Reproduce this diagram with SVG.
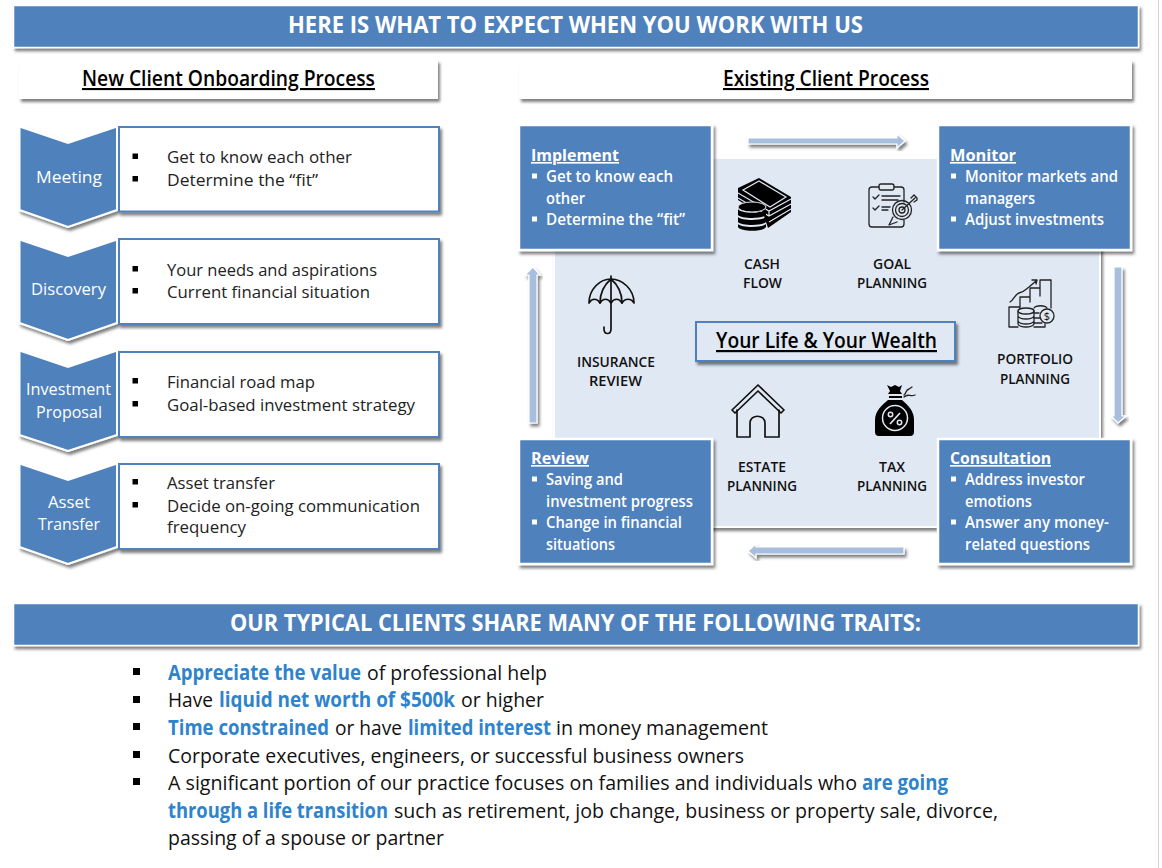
<svg xmlns="http://www.w3.org/2000/svg" width="1162" height="868" viewBox="0 0 1162 868">
<style>
text{font-family:"Open Sans","Noto Sans","Liberation Sans",sans-serif;}
.bar{fill:#4f81bd;stroke:#fff;stroke-width:1.5;filter:url(#sh);}
.sub{fill:#fff;filter:url(#sh);}
.chev{fill:#4f81bd;stroke:#fff;stroke-width:2;filter:url(#sh);}
.box{fill:#fff;stroke:#4f81bd;stroke-width:2;filter:url(#sh);}
.blk{fill:#4f81bd;stroke:#fff;stroke-width:2.5;filter:url(#sh);}
.arr{fill:#a7bede;stroke:#fff;stroke-width:1.2;filter:url(#sh);}
.t1{font-size:23px;font-weight:700;fill:#fff;}
.t2{font-size:21px;font-weight:600;fill:#000;text-decoration:underline;}
.cl{font-size:16px;fill:#fff;}
.li{font-size:16px;fill:#222;}
.h{font-size:16.5px;font-weight:700;fill:#fff;text-decoration:underline;}
.w{font-size:15.5px;font-weight:600;fill:#fff;}
.lab{font-size:13.5px;font-weight:600;fill:#111;}
.tr{font-size:20.5px;fill:#111;}
.hi{font-weight:700;fill:#2e83cc;}
.bk{fill:#000;}
.bw{fill:#fff;}
.ic{fill:none;stroke:#111;stroke-width:1.7;stroke-linejoin:round;stroke-linecap:round;}
.ict{fill:none;stroke:#222;stroke-width:1.3;stroke-linejoin:round;stroke-linecap:round;}
.gap{fill:none;stroke:#e0e8f3;stroke-width:1.2;}
</style>
<defs>
<filter id="sh" x="-10%" y="-15%" width="125%" height="135%"><feDropShadow dx="2" dy="3" stdDeviation="1.6" flood-color="#000" flood-opacity="0.5"/></filter>
</defs>
<rect x="0" y="0" width="1162" height="868" fill="#fff"/>
<rect x="1158" y="0" width="1" height="868" fill="#d4d4d4"/>

<g id="header-top"><rect class="bar" x="13.500" y="5.500" width="1125" height="42"/><text class="t1" x="288" y="33" textLength="575" lengthAdjust="spacingAndGlyphs">HERE IS WHAT TO EXPECT WHEN YOU WORK WITH US</text></g>
<g id="header-new"><rect class="sub" x="19" y="60" width="419" height="39"/><text class="t2" x="82" y="86" textLength="293" lengthAdjust="spacingAndGlyphs">New Client Onboarding Process</text></g>
<g id="header-existing"><rect class="sub" x="519" y="60" width="613" height="39"/><text class="t2" x="723" y="86" textLength="206" lengthAdjust="spacingAndGlyphs">Existing Client Process</text></g>

<g id="step-meeting">
<path class="chev" d="M19.500 126.500L68 143 117 126.500V210L68 227 19.500 210Z"/>
<text class="cl" x="36" y="183" textLength="66" lengthAdjust="spacingAndGlyphs">Meeting</text>
<rect class="box" x="119" y="127" width="320" height="84.500"/>
<rect class="bk" x="132.500" y="153.500" width="5.500" height="5.500"/><text class="li" x="167" y="163" textLength="185" lengthAdjust="spacingAndGlyphs">Get to know each other</text>
<rect class="bk" x="132.500" y="176" width="5.500" height="5.500"/><text class="li" x="167" y="186" textLength="151" lengthAdjust="spacingAndGlyphs">Determine the “fit”</text>
</g>
<g id="step-discovery">
<path class="chev" d="M19.500 239.500L68 256 117 239.500V323L68 340 19.500 323Z"/>
<text class="cl" x="31" y="295" textLength="75" lengthAdjust="spacingAndGlyphs">Discovery</text>
<rect class="box" x="119" y="239" width="320" height="85"/>
<rect class="bk" x="132.500" y="266" width="5.500" height="5.500"/><text class="li" x="167" y="276" textLength="210" lengthAdjust="spacingAndGlyphs">Your needs and aspirations</text>
<rect class="bk" x="132.500" y="288" width="5.500" height="5.500"/><text class="li" x="167" y="298" textLength="203" lengthAdjust="spacingAndGlyphs">Current financial situation</text>
</g>
<g id="step-proposal">
<path class="chev" d="M19.500 350.500L68 367 117 350.500V435L68 451 19.500 435Z"/>
<text class="cl" x="26" y="395" textLength="85" lengthAdjust="spacingAndGlyphs">Investment</text>
<text class="cl" x="36" y="418" textLength="66" lengthAdjust="spacingAndGlyphs">Proposal</text>
<rect class="box" x="119" y="352" width="320" height="85"/>
<rect class="bk" x="132.500" y="378" width="5.500" height="5.500"/><text class="li" x="167" y="388" textLength="148" lengthAdjust="spacingAndGlyphs">Financial road map</text>
<rect class="bk" x="132.500" y="401" width="5.500" height="5.500"/><text class="li" x="167" y="411" textLength="248" lengthAdjust="spacingAndGlyphs">Goal-based investment strategy</text>
</g>
<g id="step-transfer">
<path class="chev" d="M19.500 463.500L68 480 117 463.500V547L68 564 19.500 547Z"/>
<text class="cl" x="48" y="508" textLength="42" lengthAdjust="spacingAndGlyphs">Asset</text>
<text class="cl" x="38" y="530" textLength="62" lengthAdjust="spacingAndGlyphs">Transfer</text>
<rect class="box" x="119" y="464" width="320" height="85"/>
<rect class="bk" x="132.500" y="479" width="5.500" height="5.500"/><text class="li" x="167" y="489" textLength="108" lengthAdjust="spacingAndGlyphs">Asset transfer</text>
<rect class="bk" x="132.500" y="502" width="5.500" height="5.500"/><text class="li" x="167" y="512" textLength="253" lengthAdjust="spacingAndGlyphs">Decide on-going communication</text>
<text class="li" x="167" y="533" textLength="79" lengthAdjust="spacingAndGlyphs">frequency</text>
</g>

<g id="center-panel"><rect x="554" y="158" width="546" height="369" fill="#e0e8f3" stroke="#fff" stroke-width="2" filter="url(#sh)"/></g>

<g id="connectors">
<path class="arr" d="M748 138H897V134L905 141 897 148V144H748Z"/>
<path class="arr" d="M1114 267H1122V416H1126L1118 423 1111 416H1114Z"/>
<path class="arr" d="M904 547V554H756V558L748 551 756 544V547Z"/>
<path class="arr" d="M537 423H529V275H525L533 267 540 275H537Z"/>
</g>

<g id="block-implement">
<rect class="blk" x="519" y="125" width="193" height="125"/>
<text class="h" x="531" y="161" textLength="88" lengthAdjust="spacingAndGlyphs">Implement</text>
<rect class="bw" x="532" y="173.500" width="5" height="5"/><text class="w" x="546" y="182" textLength="127" lengthAdjust="spacingAndGlyphs">Get to know each</text>
<text class="w" x="546" y="204" textLength="39" lengthAdjust="spacingAndGlyphs">other</text>
<rect class="bw" x="532" y="216.500" width="5" height="5"/><text class="w" x="546" y="225" textLength="139" lengthAdjust="spacingAndGlyphs">Determine the “fit”</text>
</g>
<g id="block-monitor">
<rect class="blk" x="938" y="125" width="193" height="125"/>
<text class="h" x="950" y="161" textLength="66" lengthAdjust="spacingAndGlyphs">Monitor</text>
<rect class="bw" x="951" y="173.500" width="5" height="5"/><text class="w" x="965" y="182" textLength="153" lengthAdjust="spacingAndGlyphs">Monitor markets and</text>
<text class="w" x="965" y="204" textLength="70" lengthAdjust="spacingAndGlyphs">managers</text>
<rect class="bw" x="951" y="216.500" width="5" height="5"/><text class="w" x="965" y="225" textLength="139" lengthAdjust="spacingAndGlyphs">Adjust investments</text>
</g>
<g id="block-review">
<rect class="blk" x="519" y="439" width="193" height="125"/>
<text class="h" x="531" y="464" textLength="58" lengthAdjust="spacingAndGlyphs">Review</text>
<rect class="bw" x="532" y="476.500" width="5" height="5"/><text class="w" x="546" y="485" textLength="77" lengthAdjust="spacingAndGlyphs">Saving and</text>
<text class="w" x="546" y="507" textLength="147" lengthAdjust="spacingAndGlyphs">investment progress</text>
<rect class="bw" x="532" y="519.500" width="5" height="5"/><text class="w" x="546" y="528" textLength="136" lengthAdjust="spacingAndGlyphs">Change in financial</text>
<text class="w" x="546" y="550" textLength="69" lengthAdjust="spacingAndGlyphs">situations</text>
</g>
<g id="block-consultation">
<rect class="blk" x="938" y="439" width="193" height="125"/>
<text class="h" x="950" y="464" textLength="101" lengthAdjust="spacingAndGlyphs">Consultation</text>
<rect class="bw" x="951" y="476.500" width="5" height="5"/><text class="w" x="965" y="485" textLength="120" lengthAdjust="spacingAndGlyphs">Address investor</text>
<text class="w" x="965" y="507" textLength="67" lengthAdjust="spacingAndGlyphs">emotions</text>
<rect class="bw" x="951" y="519.500" width="5" height="5"/><text class="w" x="965" y="528" textLength="144" lengthAdjust="spacingAndGlyphs">Answer any money-</text>
<text class="w" x="965" y="550" textLength="125" lengthAdjust="spacingAndGlyphs">related questions</text>
</g>

<g id="center-title"><rect x="696" y="322" width="259" height="39" fill="#e0e8f3" stroke="#4f81bd" stroke-width="2" filter="url(#sh)"/><text x="716" y="348" font-size="22" font-weight="600" fill="#000" text-decoration="underline" textLength="221" lengthAdjust="spacingAndGlyphs">Your Life &amp; Your Wealth</text></g>

<g id="cash-flow">
<path class="bk" d="M759 178L791 197V212L768 228 764 216 738 200V188Z"/>
<path class="gap" d="M738 193L769 211 791 199M738 198L769 216 791 204M769 211V216M769 222L791 209"/>
<path class="gap" d="M759 181L786 197 770 207 743 190Z"/>
<ellipse class="bk" cx="764" cy="192" rx="5.500" ry="4"/>
<ellipse class="bk" cx="752" cy="207" rx="14" ry="5" stroke="#e0e8f3" stroke-width="1"/>
<path class="bk" d="M738 209C741 214 763 214 766 209V215C763 219 741 219 738 215Z"/>
<path class="bk" d="M738 217C741 221 763 221 766 217V222C763 226 741 226 738 222Z"/>
<path class="bk" d="M738 224C741 228 763 228 766 224V227C763 232 741 232 738 227Z"/>
<text class="lab" x="744" y="269" textLength="36" lengthAdjust="spacingAndGlyphs">CASH</text>
<text class="lab" x="743" y="288" textLength="39" lengthAdjust="spacingAndGlyphs">FLOW</text>
</g>
<g id="goal-planning">
<path class="ict" d="M879 187H872Q869 187 869 190V224Q869 227 872 227H901Q904 227 904 224V220M904 202V190Q904 187 901 187H894"/>
<rect class="ict" x="879" y="184" width="15" height="6" rx="2"/>
<path class="ict" d="M873 197L875 199 879 195M882 196H900M882 200H898M873 208L875 210 879 206M882 207H890M882 210H888"/>
<circle class="ict" cx="902" cy="210" r="9.500"/><circle class="ict" cx="902" cy="210" r="6.500"/><circle class="ict" cx="902" cy="210" r="3"/>
<path class="ict" d="M902 210L915 198M911 198L914 195 917 198 917 200 914 202"/>
<path class="ict" d="M893 217L889 225 897 222"/>
<text class="lab" x="873" y="269" textLength="38" lengthAdjust="spacingAndGlyphs">GOAL</text>
<text class="lab" x="857" y="288" textLength="70" lengthAdjust="spacingAndGlyphs">PLANNING</text>
</g>
<g id="insurance-review">
<path class="ic" d="M589 303C589 289 600 279 611 279C622 279 634 289 634 303C631 298 625 298 622 303C619 298 614 298 611 303C608 298 603 298 600 303C597 298 592 298 589 303Z"/>
<path class="ic" d="M611 279C604 285 600 294 600 303M611 279C618 285 622 294 622 303M611 276V329C611 335 604 335 604 329V327"/>
<text class="lab" x="577" y="367" textLength="78" lengthAdjust="spacingAndGlyphs">INSURANCE</text>
<text class="lab" x="589" y="386" textLength="53" lengthAdjust="spacingAndGlyphs">REVIEW</text>
</g>
<g id="portfolio-planning">
<path class="ict" d="M1009 327V307H1020V297H1030V288H1040V280H1051V308M1020 307V312M1030 297V302M1040 288V296M1009 327H1018M1045 324V327H1034"/>
<path class="ict" d="M1010 302C1014 300 1015 294 1019 293C1024 292 1026 289 1029 287L1036 281M1032 280L1037 280 1036 284"/>
<ellipse cx="1026" cy="311" rx="8" ry="3" fill="#e0e8f3" stroke="#222" stroke-width="1.300"/>
<path class="ict" d="M1018 311V324C1020 328 1032 328 1034 324V311M1018 316C1020 320 1032 320 1034 316M1018 321C1020 325 1032 325 1034 321"/>
<circle cx="1047" cy="316" r="7" fill="#e0e8f3" stroke="#222" stroke-width="1.300"/>
<path class="ict" d="M1034 308C1036 305 1045 305 1047 308M1034 313H1039M1034 318H1040M1034 323H1042"/>
<text x="1047" y="320" font-size="11" fill="#111" text-anchor="middle">$</text>
<text class="lab" x="997" y="364" textLength="76" lengthAdjust="spacingAndGlyphs">PORTFOLIO</text>
<text class="lab" x="1000" y="384" textLength="70" lengthAdjust="spacingAndGlyphs">PLANNING</text>
</g>
<g id="estate-planning">
<path class="ic" d="M732 410L758 385 784 410 781 413 758 391 735 413Z"/>
<path class="ic" d="M737 410V437H750V423C750 414 765 414 765 423V437H779V410"/>
<text class="lab" x="738" y="472" textLength="48" lengthAdjust="spacingAndGlyphs">ESTATE</text>
<text class="lab" x="727" y="491" textLength="70" lengthAdjust="spacingAndGlyphs">PLANNING</text>
</g>
<g id="tax-planning">
<path class="bk" d="M887 385L891 387 895 385 899 387 902 385 900 391 902 394H888L890 391Z"/>
<rect class="bk" x="889" y="396" width="13" height="2"/>
<path class="bk" d="M888 400H902C908 405 914 411 914 420V432Q914 436 910 436H879Q875 436 875 432V420C875 411 882 405 888 400Z"/>
<circle cx="895" cy="418" r="12.500" fill="none" stroke="#e0e8f3" stroke-width="1.500"/>
<path d="M890 424L900 413" stroke="#e0e8f3" stroke-width="1.700" fill="none"/>
<circle cx="890.500" cy="414.500" r="2.200" fill="none" stroke="#e0e8f3" stroke-width="1.500"/>
<circle cx="899.500" cy="422.500" r="2.200" fill="none" stroke="#e0e8f3" stroke-width="1.500"/>
<path class="ict" d="M904 395C907 393 905 390 909 389L912 387M904 397C908 393 910 397 915 395"/>
<text class="lab" x="879" y="472" textLength="26" lengthAdjust="spacingAndGlyphs">TAX</text>
<text class="lab" x="857" y="491" textLength="70" lengthAdjust="spacingAndGlyphs">PLANNING</text>
</g>

<g id="header-traits"><rect class="bar" x="13.500" y="603.500" width="1125" height="42"/><text class="t1" x="230" y="631" textLength="691" lengthAdjust="spacingAndGlyphs">OUR TYPICAL CLIENTS SHARE MANY OF THE FOLLOWING TRAITS:</text></g>

<g id="traits">
<rect class="bk" x="133" y="668" width="7" height="7"/>
<text class="tr" y="680"><tspan class="hi" x="168" textLength="193" lengthAdjust="spacingAndGlyphs">Appreciate the value</tspan> <tspan x="367" textLength="180" lengthAdjust="spacingAndGlyphs">of professional help</tspan></text>
<rect class="bk" x="133" y="696" width="7" height="7"/>
<text class="tr" y="707"><tspan x="168" textLength="45" lengthAdjust="spacingAndGlyphs">Have</tspan> <tspan class="hi" x="219" textLength="236" lengthAdjust="spacingAndGlyphs">liquid net worth of $500k</tspan> <tspan x="461" textLength="83" lengthAdjust="spacingAndGlyphs">or higher</tspan></text>
<rect class="bk" x="133" y="723" width="7" height="7"/>
<text class="tr" y="735"><tspan class="hi" x="168" textLength="161" lengthAdjust="spacingAndGlyphs">Time constrained</tspan> <tspan x="335" textLength="67" lengthAdjust="spacingAndGlyphs">or have</tspan> <tspan class="hi" x="408" textLength="143" lengthAdjust="spacingAndGlyphs">limited interest</tspan> <tspan x="556" textLength="212" lengthAdjust="spacingAndGlyphs">in money management</tspan></text>
<rect class="bk" x="133" y="751" width="7" height="7"/>
<text class="tr" x="168" y="763" textLength="576" lengthAdjust="spacingAndGlyphs">Corporate executives, engineers, or successful business owners</text>
<rect class="bk" x="133" y="778" width="7" height="7"/>
<text class="tr" y="790"><tspan x="168" textLength="689" lengthAdjust="spacingAndGlyphs">A significant portion of our practice focuses on families and individuals who</tspan> <tspan class="hi" x="862" textLength="86" lengthAdjust="spacingAndGlyphs">are going</tspan></text>
<text class="tr" y="818"><tspan class="hi" x="168" textLength="220" lengthAdjust="spacingAndGlyphs">through a life transition</tspan> <tspan x="394" textLength="604" lengthAdjust="spacingAndGlyphs">such as retirement, job change, business or property sale, divorce,</tspan></text>
<text class="tr" x="168" y="845" textLength="276" lengthAdjust="spacingAndGlyphs">passing of a spouse or partner</text>
</g>
</svg>
